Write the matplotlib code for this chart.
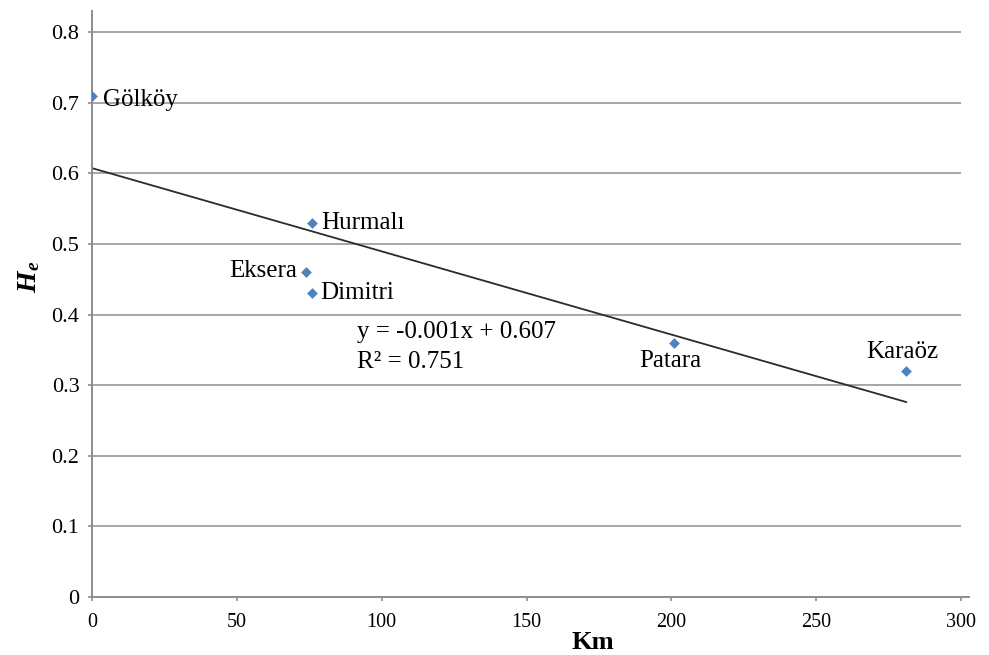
import matplotlib
matplotlib.use("Agg")
import matplotlib.pyplot as plt
import numpy as np

sites = ["Gölköy", "Hurmalı", "Eksera", "Dimitri", "Patara", "Karaöz"]
km = [0, 76, 74, 76, 201, 281]
he = [0.71, 0.53, 0.46, 0.43, 0.36, 0.32]
x_ticks = [0, 50, 100, 150, 200, 250, 300]
y_ticks = [0, 0.1, 0.2, 0.3, 0.4, 0.5, 0.6, 0.7, 0.8]
y_tick_labels = ["0", "0.1", "0.2", "0.3", "0.4", "0.5", "0.6", "0.7", "0.8"]
eq_text = "y = -0.001x + 0.607\nR\u00b2 = 0.751"

plt.rcParams['font.family'] = ['Liberation Serif', 'DejaVu Serif']
plt.rcParams['mathtext.fontset'] = 'custom'
plt.rcParams['mathtext.bf'] = 'Liberation Serif:bold:italic'
plt.rcParams['mathtext.rm'] = 'Liberation Serif'
plt.rcParams['mathtext.it'] = 'Liberation Serif:italic'

fig = plt.figure(figsize=(9.89, 6.55), dpi=100)
ax = fig.add_axes([92/989, (655-597)/655, 877/989, 586/655])

grid_c = '#a6a6a6'
for yv in y_ticks[1:]:
    ax.plot([0, 300], [yv, yv], color=grid_c, lw=1.4, zorder=1, solid_capstyle='butt')

ax.set_xlim(0, 302.7)
ax.set_ylim(0, 0.83)
for s in ['top', 'right']:
    ax.spines[s].set_visible(False)
for s in ['left', 'bottom']:
    ax.spines[s].set_color('#8c8c8c')
    ax.spines[s].set_linewidth(1.4)

ax.set_xticks(x_ticks)
ax.set_yticks(y_ticks)
ax.set_yticklabels(y_tick_labels)
ax.tick_params(axis='both', colors='#8c8c8c', length=3, width=1.2,
               labelcolor='black')
ax.tick_params(axis='y', labelsize=16, pad=6)
ax.tick_params(axis='x', labelsize=14.5, pad=8.5)

# trend line
kx = np.array(km, dtype=float)
ky = np.array(he, dtype=float)
slope, intercept = np.polyfit(kx, ky, 1)
xl = np.array([0, kx.max()])
ax.plot(xl, slope * xl + intercept, color='#2b2b2b', lw=1.3, zorder=2)

ax.scatter(km, he, marker='D', s=30, color='#4f81bd', zorder=3, linewidths=0)

offsets = {
    "Gölköy": ((11, -4), 'left', 'center'),
    "Hurmalı": ((9, 0), 'left', 'center'),
    "Eksera": ((-9, 1), 'right', 'center'),
    "Dimitri": ((8, 0), 'left', 'center'),
    "Patara": ((-4, -18), 'center', 'center'),
    "Karaöz": ((-4, 19), 'center', 'center'),
}
for name, xv, yv in zip(sites, km, he):
    off, ha, va = offsets[name]
    ax.annotate(name, (xv, yv), xytext=off, textcoords='offset pixels',
                ha=ha, va=va, fontsize=18, zorder=4)

ax.text(91.5, 0.354, eq_text, ha='left', va='center', fontsize=18, linespacing=1.42)

ax.set_xlabel("Km", fontsize=19, fontweight='bold')
ax.xaxis.set_label_coords((593 - 92) / 877, (597 - 631) / 586)
ax.set_ylabel(r"$\mathbf{H_e}$", fontsize=20)
ax.yaxis.set_label_coords((42 - 92) / 877, (597 - 277) / 586)

fig.savefig("out.png", dpi=100)
